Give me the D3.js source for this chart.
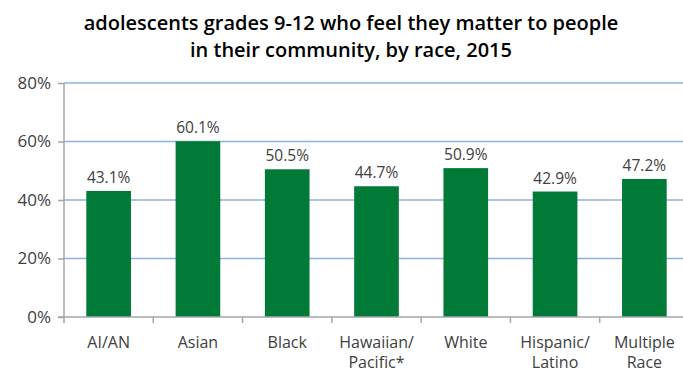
<!DOCTYPE html>
<html>
<head>
<meta charset="utf-8">
<script src="https://cdn.jsdelivr.net/npm/d3@7"></script>
<style>
  body { margin: 0; background: #fff; }
  svg { display: block; font-family: "Open Sans", "Noto Sans", sans-serif; }
</style>
</head>
<body>
<script>
// categories (multi-line labels split on \n)
var categories = ["AI/AN", "Asian", "Black", "Hawaiian/\nPacific*", "White", "Hispanic/\nLatino", "Multiple\nRace"];
var values = [43.1, 60.1, 50.5, 44.7, 50.9, 42.9, 47.2];
var yTicks = [0, 20, 40, 60, 80];
var titleLines = ["adolescents grades 9-12 who feel they matter to people", "in their community, by race, 2015"];

var W = 683, H = 373;
var margin = {top: 83, right: -6, bottom: 56, left: 64};
var width = W - margin.left - margin.right,
    height = H - margin.top - margin.bottom;

var svg = d3.select("body").append("svg")
    .attr("width", W)
    .attr("height", H);

var x = d3.scaleBand()
    .domain(categories)
    .range([0, width])
    .paddingInner(0.5)
    .paddingOuter(0.25);

var y = d3.scaleLinear()
    .domain([0, 80])
    .range([height, 0]);

// title
svg.append("g").selectAll("text")
    .data(titleLines)
    .enter().append("text")
    .attr("x", 351)
    .attr("y", function(d, i) { return 29.5 + i * 27.5; })
    .attr("text-anchor", "middle")
    .style("font-size", "20px")
    .style("font-weight", "600")
    .style("fill", "#000")
    .text(function(d) { return d; });

var g = svg.append("g")
    .attr("transform", "translate(" + margin.left + "," + margin.top + ")");

// gridlines
g.append("g").selectAll("line")
    .data(yTicks.filter(function(d) { return d > 0; }))
    .enter().append("line")
    .attr("x1", 0)
    .attr("x2", width)
    .attr("y1", function(d) { return y(d); })
    .attr("y2", function(d) { return y(d); })
    .style("stroke", "#8db0dc")
    .style("stroke-width", 1.5);

// bars
g.append("g").selectAll("rect")
    .data(values)
    .enter().append("rect")
    .attr("x", function(d, i) { return x(categories[i]); })
    .attr("y", function(d) { return y(d); })
    .attr("width", x.bandwidth())
    .attr("height", function(d) { return y(0) - y(d); })
    .style("fill", "#007a36");

// data labels
g.append("g").selectAll("text")
    .data(values)
    .enter().append("text")
    .attr("x", function(d, i) { return x(categories[i]) + x.bandwidth() / 2; })
    .attr("y", function(d) { return y(d) - 8; })
    .attr("text-anchor", "middle")
    .style("font-size", "15.5px")
    .style("fill", "#404040")
    .text(function(d) { return d.toFixed(1) + "%"; });

// y axis
var yAxis = d3.axisLeft(y)
    .tickValues(yTicks)
    .tickSize(6)
    .tickPadding(7)
    .tickFormat(function(d) { return d + "%"; });

var yg = g.append("g").call(yAxis);
yg.select(".domain").style("stroke", "#a6a6a6").style("stroke-width", 1.5).attr("d", "M0," + height + "V0");
yg.selectAll(".tick line").style("stroke", "#a6a6a6").style("stroke-width", 1.5);
yg.selectAll(".tick text").style("font-size", "17px").style("fill", "#404040")
    .style("font-family", "\"Open Sans\", sans-serif");

// x axis
var xBounds = categories.map(function(c) { return x(c) - x.step() * x.paddingInner() / 2; });
var xg = g.append("g").attr("transform", "translate(0," + height + ")");
xg.append("line")
    .attr("x1", -6).attr("x2", width)
    .style("stroke", "#a6a6a6").style("stroke-width", 1.5);
xg.selectAll("line.tk")
    .data(xBounds)
    .enter().append("line")
    .attr("class", "tk")
    .attr("x1", function(d) { return d; })
    .attr("x2", function(d) { return d; })
    .attr("y1", 0).attr("y2", 6)
    .style("stroke", "#a6a6a6").style("stroke-width", 1.5);

var lbl = xg.selectAll("text")
    .data(categories)
    .enter().append("text")
    .attr("text-anchor", "middle")
    .attr("transform", function(d) { return "translate(" + (x(d) + x.bandwidth() / 2) + ",0)"; })
    .style("font-size", "16px")
    .style("fill", "#404040");
lbl.selectAll("tspan")
    .data(function(d) { return d.split("\n"); })
    .enter().append("tspan")
    .attr("x", 0)
    .attr("y", function(d, i) { return 31 + i * 20; })
    .text(function(d) { return d; });
</script>
</body>
</html>
